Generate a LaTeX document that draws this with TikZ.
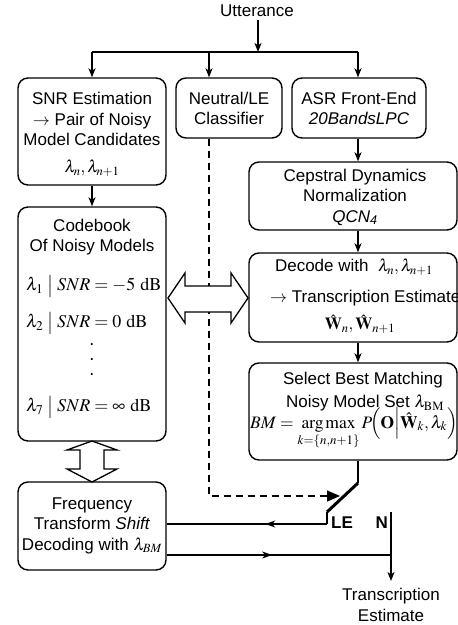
\documentclass[tikz,border=0pt]{standalone}
\usepackage{mathptmx}
\usepackage[no-math]{fontspec}
\setmainfont{Liberation Sans}
\usetikzlibrary{arrows.meta,decorations.markings}
\begin{document}
\begin{tikzpicture}[x=1pt,y=-1pt,
  box/.style={draw, line width=1.4pt, rounded corners=10pt, inner sep=0pt},
  txt/.style={inner sep=0pt, align=center, font=\fontsize{17}{20.5}\selectfont},
  mtxt/.style={inner sep=0pt, font=\fontsize{18}{20}\selectfont},
  conn/.style={line width=1.3pt},
  arr/.style={conn, -{Stealth[length=9pt,width=7pt,inset=2.5pt]}},
  midarr/.style={conn, postaction={decorate}, decoration={markings, mark=at position #1 with {\arrow{Stealth[length=10pt,width=7pt,inset=3pt]}}}},
  dblarrow/.style={draw, line width=1.3pt, fill=white, line join=miter}]
\useasboundingbox (0,0) rectangle (458,625);

% boxes
\node[box, minimum width=148pt, minimum height=107pt] (snr) at (92,131.5) {};
\node[box, minimum width=106pt, minimum height=60pt] (neu) at (229,108) {};
\node[box, minimum width=134pt, minimum height=60pt] (asr) at (359,108) {};
\node[box, minimum width=148pt, minimum height=234pt] (cb) at (92,324) {};
\node[box, minimum width=148pt, minimum height=88pt] (frq) at (92,526) {};
\node[box, minimum width=208pt, minimum height=68pt] (cep) at (353,196) {};
\node[box, minimum width=208pt, minimum height=89pt] (dec) at (353,297.5) {};
\node[box, minimum width=208pt, minimum height=97pt] (sel) at (353,411.5) {};

% texts
\node[txt] (utt) at (257,11) {Utterance};
\node[txt] (snrt) at (92,119) {SNR Estimation\\$\rightarrow$ Pair of Noisy\\Model Candidates};
\node[txt] (snrl) at (92,168) {$\lambda_n,\lambda_{n+1}$};
\node[txt] (neut) at (229,108.5) {Neutral/LE\\Classifier};
\node[txt] (asrt) at (359,108.5) {ASR Front-End\\\textit{20BandsLPC}};
\node[txt] (cept) at (355,197) {Cepstral Dynamics\\Normalization\\\textit{QCN}\textsubscript{\itshape 4}};
\node[txt] (dect1) at (354,267) {Decode with \ $\lambda_n,\lambda_{n+1}$};
\node[txt, anchor=west] (dect2) at (270,298) {$\rightarrow$ Transcription Estimates};
\node[txt] (dect3) at (360,324) {$\hat{\mathbf{W}}_n,\hat{\mathbf{W}}_{n+1}$};
\node[txt] (selt1) at (363,380) {Select Best Matching};
\node[txt] (selt2) at (365,403) {Noisy Model Set $\lambda_{\mathrm{BM}}$};
\node[inner sep=0pt, font=\fontsize{17.5}{20}\selectfont, anchor=base west] (selt3) at (250,428) {$BM = \mathop{\arg\max}\limits_{k=\{n,n+1\}} P\!\Big(\mathbf{O}\Big|\hat{\mathbf{W}}_k,\lambda_k\Big)$};
\node[txt] (cbt) at (92,237) {Codebook\\Of Noisy Models};
\node[mtxt, anchor=west] (cb1) at (26,286) {$\lambda_1\;\big|\;SNR=-5\ \mathrm{dB}$};
\node[mtxt, anchor=west] (cb2) at (26,323) {$\lambda_2\;\big|\;SNR=0\ \mathrm{dB}$};
\node[inner sep=0pt, align=center, font=\fontsize{18}{15}\selectfont] (cbd) at (92,360) {.\\.\\.};
\node[mtxt, anchor=west] (cb7) at (26,407) {$\lambda_7\;\big|\;SNR=\infty\ \mathrm{dB}$};
\node[txt] (frqt) at (92,525.5) {Frequency\\Transform \textit{Shift}\\Decoding with $\lambda_{BM}$};
\node[txt] (te) at (391,605) {Transcription\\Estimate};
\node[txt, font=\fontsize{17}{20}\selectfont\bfseries, anchor=west] (le) at (331,523) {LE};
\node[txt, font=\fontsize{17}{20}\selectfont\bfseries, anchor=east] (nn) at (388,523) {N};

% coordinates
\coordinate (j) at (258,52);
\coordinate (jl) at (92,52);
\coordinate (jm) at (209,52);
\coordinate (jr) at (358,52);
\coordinate (sw1) at (358,483);
\coordinate (sw2) at (327,512);
\coordinate (lej) at (327,524);
\coordinate (tip) at (340,496);
\coordinate (ntop) at (391,512);
\coordinate (nj) at (391,555);
\coordinate (nend) at (391,581);

% connectors
\draw[arr] (utt.south) ++(1,3) -- (j);
\draw[conn] (jl) -- (jr);
\draw[arr] (jl) -- (snr.north);
\draw[arr] (jm) -- (jm |- neu.north);
\draw[arr] (jr) -- (jr |- asr.north);
\draw[arr] (jr |- asr.south) -- (jr |- cep.north);
\draw[arr] (jr |- cep.south) -- (jr |- dec.north);
\draw[arr] (jr |- dec.south) -- (jr |- sel.north);
\draw[arr] (snr.south) -- (cb.north);
\draw[conn, dash pattern=on 7pt off 5pt, -{Triangle[length=13pt,width=11pt]}] (jm |- neu.south) |- (tip);
\draw[conn] (jr |- sel.south) -- (sw1);
\draw[line width=3pt] (sw1) -- (sw2);
\draw[conn] (sw2) -- (lej);
\draw[midarr=0.385] (lej) -- (lej -| frq.east);
\draw[midarr=0.47] (frq.east |- nj) -- (nj);
\draw[arr] (ntop) -- (nend);

% double arrows
\draw[dblarrow] (168,298) -- (185,273) -- (185,286) -- (231,286) -- (231,273) -- (248,298)
  -- (231,323) -- (231,312) -- (185,312) -- (185,323) -- cycle;
\draw[dblarrow] (92,441) -- (117,450) -- (104,450) -- (104,469) -- (117,469) -- (92,482)
  -- (67,469) -- (80,469) -- (80,450) -- (67,450) -- cycle;
\end{tikzpicture}
\end{document}
